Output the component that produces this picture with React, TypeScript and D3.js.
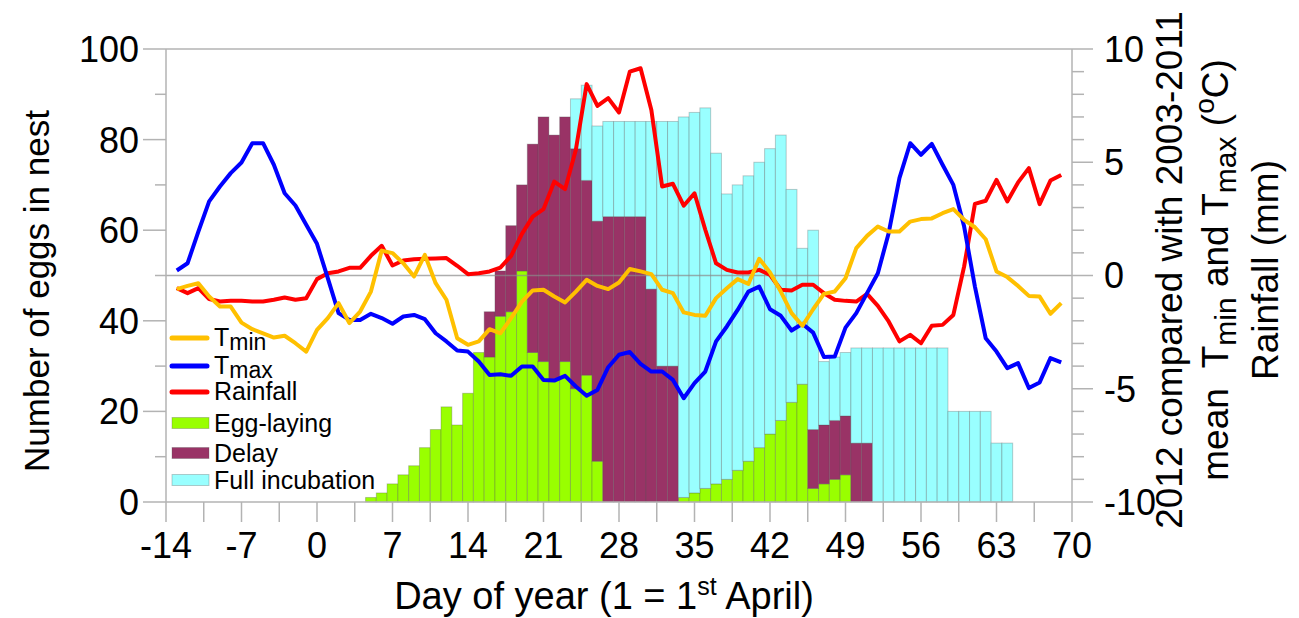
import React from 'react';
import * as d3 from 'd3';

// daily weather anomalies (2012 vs 2003-2011 mean), days -13 .. 69
const lineDays = d3.range(-13, 70);
const tMin = [
  -0.6, -0.46, -0.34, -0.93, -1.37, -1.37, -2.08, -2.37, -2.55, -2.74, -2.66, -2.99, -3.36, -2.4, -1.88, -1.22, -2.1, -1.59, -0.71, 1.1,
  0.99, 0.54, -0.04, 0.91, -0.34, -1.07, -2.77, -3.06, -2.91, -2.37, -2.55, -1.88, -1.15, -0.66, -0.63, -0.93, -1.19, -0.71, -0.19, -0.46, -0.6,
  -0.31, 0.29, 0.18, 0.06, -0.63, -0.78, -1.63, -1.74, -1.78, -1.0, -0.56, -0.16, -0.37, 0.74, 0.13, -0.71, -1.66, -2.22, -1.49, -0.81, -0.71,
  -0.12, 1.21, 1.75, 2.16, 1.94, 1.94, 2.38, 2.49, 2.52, 2.75, 2.93, 2.46, 2.13, 1.6, 0.18, -0.07, -0.46, -0.9, -0.93, -1.69, -1.22,
];
const tMax = [
  0.22, 0.54, 1.94, 3.27, 3.93, 4.52, 4.99, 5.84, 5.84, 4.89, 3.63, 3.09, 2.24, 1.4, -0.12, -1.66, -1.96, -1.96, -1.69, -1.88,
  -2.13, -1.81, -1.74, -1.93, -2.55, -2.91, -3.31, -3.36, -3.8, -4.39, -4.36, -4.43, -4.02, -4.02, -4.61, -4.64, -4.43, -4.9, -5.31, -5.05, -4.05,
  -3.5, -3.38, -3.9, -4.24, -4.24, -4.61, -5.42, -4.75, -4.24, -2.91, -2.25, -1.52, -0.71, -0.49, -1.49, -1.78, -2.43, -2.13, -2.52, -3.6, -3.58,
  -2.3, -1.66, -0.78, 0.1, 1.87, 4.3, 5.84, 5.33, 5.81, 4.89, 4.0, 2.16, -0.49, -2.77, -3.36, -4.09, -3.87, -4.97, -4.72, -3.65, -3.84,
];
const rainfall = [
  -0.56, -0.78, -0.56, -1.04, -1.15, -1.12, -1.12, -1.15, -1.15, -1.07, -0.97, -1.07, -1.0, -0.16, 0.1, 0.18, 0.34, 0.34, 0.87, 1.31,
  0.44, 0.66, 0.72, 0.74, 0.75, 0.77, 0.43, 0.06, 0.1, 0.18, 0.35, 0.87, 1.84, 2.6, 2.93, 4.15, 3.81, 5.55, 8.45, 7.49, 7.83,
  7.2, 9.0, 9.15, 7.31, 3.93, 4.05, 3.08, 3.63, 2.02, 0.54, 0.25, 0.13, 0.13, 0.25, 0.03, -0.63, -0.66, -0.41, -0.41, -0.78, -1.07,
  -1.12, -1.15, -0.81, -1.34, -2.03, -2.91, -2.62, -2.99, -2.22, -2.18, -1.74, 0.4, 3.16, 3.3, 4.22, 3.27, 4.11, 4.74, 3.15, 4.19, 4.44,
];

// eggs in nest by stage, days 5 .. 64 (stacked)
const barDays = d3.range(5, 65);
const eggLaying = [
  1, 2, 4, 6, 8, 12, 16, 21, 17, 24, 33, 32, 41, 42, 51, 33, 31, 27, 31, 25, 28, 9,
  0, 0, 0, 0, 0, 0, 0,
  1, 2, 3, 4, 5, 7, 9, 12, 15, 18, 22, 26, 3, 4, 5, 6,
  0, 0, 0, 0, 0, 0, 0, 0, 0, 0, 0, 0, 0, 0, 0,
];
const delay = [
  0, 0, 0, 0, 0, 0, 0, 0, 0, 0, 0, 10, 10, 19, 19, 46, 54, 54, 54, 53, 43, 53,
  63, 63, 63, 63, 47, 30, 30,
  0, 0, 0, 0, 0, 0, 0, 0, 0, 0, 0, 0, 13, 13, 13, 13,
  13, 13, 0, 0, 0, 0, 0, 0, 0, 0, 0, 0, 0, 0, 0,
];
const fullIncubation = [
  0, 0, 0, 0, 0, 0, 0, 0, 0, 0, 0, 0, 0, 0, 0, 0, 0, 0, 0, 11, 21, 21,
  21, 21, 21, 21, 37, 54, 54,
  84, 84, 84, 73, 63, 63, 63, 63, 63, 63, 47, 30, 44, 14, 14, 14,
  21, 21, 34, 34, 34, 34, 34, 34, 34, 20, 20, 20, 20, 13, 13,
];

const seriesKeys = ['egg', 'delay', 'incub'];
const seriesColors = { egg: '#99ff00', delay: '#993366', incub: '#99ffff' };

const xTicks = d3.range(-14, 70.01, 3.5);
const xLabels = d3.range(-14, 71, 7);
const leftMajor = [0, 20, 40, 60, 80, 100];
const leftMinor = [10, 30, 50, 70, 90];
const rightMajor = [-10, -5, 0, 5, 10];
const rightMinor = d3.range(-10, 11).filter((v) => v % 5 !== 0);

const legendLines = [
  { label: 'T', sub: 'min', color: '#ffc000' },
  { label: 'T', sub: 'max', color: '#0000ff' },
  { label: 'Rainfall', sub: '', color: '#ff0000' },
];
const legendBars = [
  { label: 'Egg-laying', key: 'egg' },
  { label: 'Delay', key: 'delay' },
  { label: 'Full incubation', key: 'incub' },
];

const W = 1299;
const H = 618;
const FONT = 'Liberation Sans, Arial, sans-serif';
const AXIS = '#b3b3b3';

export default function App() {
  const x = d3.scaleLinear().domain([-14, 70]).range([166, 1072]);
  const yL = d3.scaleLinear().domain([0, 100]).range([502, 49]);
  const yR = d3.scaleLinear().domain([-10, 10]).range([502, 49]);

  const table = barDays.map((d, i) => ({
    day: d,
    egg: eggLaying[i],
    delay: delay[i],
    incub: fullIncubation[i],
  }));
  const stacked = d3.stack().keys(seriesKeys)(table);

  const line = (vals) =>
    d3
      .line()
      .x((d, i) => x(lineDays[i]))
      .y((d) => yR(d))(vals);

  const [x0, x1] = x.range();
  const [yb, yt] = yL.range();
  const legendY = [338, 366, 392, 423, 453, 480];
  const midR = 270;

  return (
    <svg
      width={W}
      height={H}
      style={{ position: 'absolute', left: 0, top: 0, background: '#fff' }}
      fontFamily={FONT}
    >
      {/* bars */}
      {stacked.map((s) => (
        <g key={s.key} fill={seriesColors[s.key]}>
          {s
            .filter((p) => p[1] - p[0] > 0)
            .map((p) => (
              <rect
                key={p.data.day}
                x={x(p.data.day - 0.5)}
                width={x(p.data.day + 0.5) - x(p.data.day - 0.5)}
                y={yL(p[1])}
                height={yL(p[0]) - yL(p[1])}
                stroke="rgba(80,80,80,0.3)"
                strokeWidth={1}
              />
            ))}
        </g>
      ))}

      {/* frame and zero line */}
      <line x1={x0} x2={x1} y1={yt} y2={yt} stroke={AXIS} strokeWidth={1.5} />
      <line x1={x0} x2={x1} y1={yR(0)} y2={yR(0)} stroke="#8a8a8a" strokeOpacity={0.7} strokeWidth={1.5} />
      <line x1={x0} x2={x1} y1={yb} y2={yb} stroke={AXIS} strokeWidth={1.5} />
      <line x1={x0} x2={x0} y1={yt} y2={yb} stroke={AXIS} strokeWidth={1.5} />
      <line x1={x1} x2={x1} y1={yt} y2={yb} stroke={AXIS} strokeWidth={1.5} />

      {/* lines */}
      <path d={line(rainfall)} fill="none" stroke="#ff0000" strokeWidth={4} strokeLinejoin="round" />
      <path d={line(tMax)} fill="none" stroke="#0000ff" strokeWidth={4} strokeLinejoin="round" />
      <path d={line(tMin)} fill="none" stroke="#ffc000" strokeWidth={4} strokeLinejoin="round" />

      {/* left axis */}
      {leftMajor.map((v) => (
        <g key={'lm' + v}>
          <line x1={143} x2={x0} y1={yL(v)} y2={yL(v)} stroke={AXIS} strokeWidth={1.5} />
          <text x={139} y={yL(v)} dy="0.36em" textAnchor="end" fontSize={36}>
            {v}
          </text>
        </g>
      ))}
      {leftMinor.map((v) => (
        <line key={'ln' + v} x1={155} x2={x0} y1={yL(v)} y2={yL(v)} stroke={AXIS} strokeWidth={1.5} />
      ))}

      {/* right axis */}
      {rightMajor.map((v) => (
        <g key={'rm' + v}>
          <line x1={x1} x2={1093} y1={yR(v)} y2={yR(v)} stroke={AXIS} strokeWidth={1.5} />
          <text x={1104} y={yR(v)} dy="0.36em" textAnchor="start" fontSize={36}>
            {v}
          </text>
        </g>
      ))}
      {rightMinor.map((v) => (
        <line key={'rn' + v} x1={x1} x2={1084} y1={yR(v)} y2={yR(v)} stroke={AXIS} strokeWidth={1.5} />
      ))}

      {/* bottom axis */}
      {xTicks.map((v) => (
        <line key={'xt' + v} x1={x(v)} x2={x(v)} y1={yb} y2={yb + 20} stroke={AXIS} strokeWidth={1.5} />
      ))}
      {xLabels.map((v) => (
        <text key={'xl' + v} x={x(v)} y={558} textAnchor="middle" fontSize={36}>
          {v}
        </text>
      ))}

      {/* axis titles */}
      <text x={604} y={609} textAnchor="middle" fontSize={38}>
        Day of year (1 = 1<tspan dy={-14} fontSize={25}>st</tspan>
        <tspan dy={14}> April)</tspan>
      </text>
      <text transform="translate(49,291) rotate(-90)" textAnchor="middle" fontSize={35}>
        Number of eggs in nest
      </text>
      <text transform={`translate(1182,${midR}) rotate(-90)`} textAnchor="middle" fontSize={37}>
        2012 compared with 2003-2011
      </text>
      <text
        transform={`translate(1228,${midR}) rotate(-90)`}
        textAnchor="middle"
        fontSize={37}
        style={{ whiteSpace: 'pre' }}
      >
        {'mean  T'}
        <tspan dy={8} fontSize={30}>min</tspan>
        <tspan dy={-8}>{' and T'}</tspan>
        <tspan dy={8} fontSize={30}>max</tspan>
        <tspan dy={-8}>{' ('}</tspan>
        <tspan dy={-14} fontSize={28}>o</tspan>
        <tspan dy={14}>C)</tspan>
      </text>
      <text transform={`translate(1278,${midR}) rotate(-90)`} textAnchor="middle" fontSize={37}>
        Rainfall (mm)
      </text>

      {/* legend */}
      {legendLines.map((l, i) => (
        <g key={'ll' + i}>
          <line
            x1={172}
            x2={207}
            y1={legendY[i]}
            y2={legendY[i]}
            stroke={l.color}
            strokeWidth={5}
            strokeLinecap="round"
          />
          <text x={214} y={legendY[i] + 8} fontSize={25}>
            {l.label}
            {l.sub && (
              <tspan dy={4} fontSize={23}>
                {l.sub}
              </tspan>
            )}
          </text>
        </g>
      ))}
      {legendBars.map((b, i) => (
        <g key={'lb' + i}>
          <rect
            x={172}
            y={legendY[i + 3] - 5.5}
            width={37}
            height={11}
            fill={seriesColors[b.key]}
            stroke="rgba(80,80,80,0.3)"
          />
          <text x={214} y={legendY[i + 3] + 9} fontSize={25}>
            {b.label}
          </text>
        </g>
      ))}
    </svg>
  );
}
